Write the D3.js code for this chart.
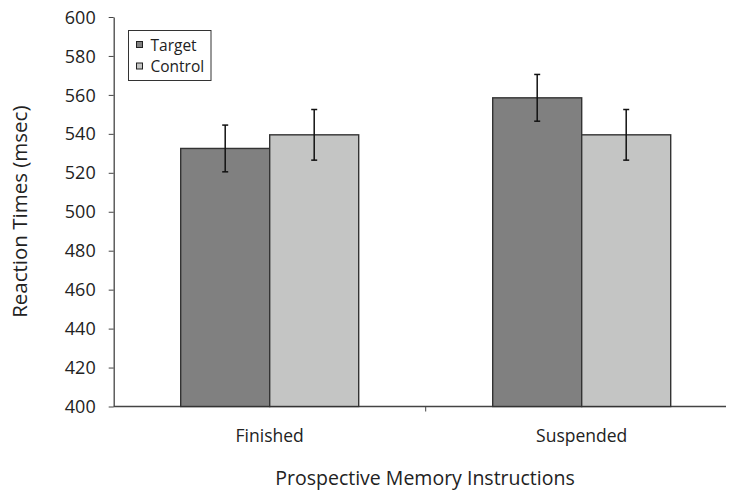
<!DOCTYPE html>
<html><head><meta charset="utf-8">
<script src="https://cdn.jsdelivr.net/npm/d3@7"></script>
<style>body{margin:0;background:#fff}svg{display:block}text{font-family:"Open Sans",sans-serif;fill:#222}</style>
</head><body><svg id="c" width="730" height="490"></svg>
<script>
const categories = ["Finished", "Suspended"];
const seriesNames = ["Target", "Control"];
const targetValues = [532.5, 558.5];
const controlValues = [539.5, 539.5];
const targetErrors = [12, 12];
const controlErrors = [13, 13];
const yTicks = [400, 420, 440, 460, 480, 500, 520, 540, 560, 580, 600];
const colors = {Target: "#808080", Control: "#c4c5c4"};

const svg = d3.select("#c");
const x0 = d3.scaleBand().domain(categories).range([113.7, 737.7]).paddingInner(0).paddingOuter(0);
const x1 = d3.scaleBand().domain(seriesNames).range([67, 245]).padding(0);
const y = d3.scaleLinear().domain([400, 600]).range([406.5, 17]);

// y axis
const ya = svg.append("g").attr("transform", "translate(113.7,0)")
  .call(d3.axisLeft(y).tickValues(yTicks).tickSize(5).tickPadding(13).tickSizeOuter(0));
ya.select(".domain").attr("stroke", "#444").attr("stroke-width", 1.3);
ya.selectAll(".tick line").attr("stroke", "#444");
ya.selectAll(".tick text").attr("font-size", 18).attr("fill", "#222").attr("font-family", "Open Sans")
  .attr("dy", "0.34em");

// x axis line
svg.append("line").attr("x1", 113.7).attr("x2", 726).attr("y1", y(400)).attr("y2", y(400))
  .attr("stroke", "#444").attr("stroke-width", 1.3);
categories.forEach((c, i) => {
  if (i > 0) svg.append("line").attr("x1", x0(c)).attr("x2", x0(c)).attr("y1", y(400)).attr("y2", y(400) + 5).attr("stroke", "#444");
});
svg.selectAll(".cat").data(categories).join("text")
  .attr("x", d => x0(d) + x0.bandwidth() / 2).attr("y", 441.5).attr("text-anchor", "middle")
  .attr("font-size", 17.5).text(d => d);

const data = [];
categories.forEach((c, i) => {
  data.push({c, s: "Target", v: targetValues[i], e: targetErrors[i]});
  data.push({c, s: "Control", v: controlValues[i], e: controlErrors[i]});
});
const g = svg.append("g");
g.selectAll("rect").data(data).join("rect")
  .attr("x", d => x0(d.c) + x1(d.s)).attr("width", x1.bandwidth())
  .attr("y", d => y(d.v)).attr("height", d => y(400) - y(d.v))
  .attr("fill", d => colors[d.s]).attr("stroke", "#333").attr("stroke-width", 1.4);

const cx = d => x0(d.c) + x1(d.s) + x1.bandwidth() / 2;
const eb = g.selectAll(".eb").data(data).join("g");
eb.append("line").attr("x1", cx).attr("x2", cx)
  .attr("y1", d => y(d.v + d.e)).attr("y2", d => y(d.v - d.e)).attr("stroke", "#111").attr("stroke-width", 1.5);
[1, -1].forEach(sg => {
  eb.append("line").attr("x1", d => cx(d) - 3).attr("x2", d => cx(d) + 3)
    .attr("y1", d => y(d.v + sg * d.e)).attr("y2", d => y(d.v + sg * d.e)).attr("stroke", "#111").attr("stroke-width", 1.5);
});

// axis titles
svg.append("text").attr("transform", "translate(27,211.7) rotate(-90)").attr("text-anchor", "middle")
  .attr("font-size", 20.5).text("Reaction Times (msec)");
svg.append("text").attr("x", 425).attr("y", 485).attr("text-anchor", "middle")
  .attr("font-size", 19.5).text("Prospective Memory Instructions");

// legend
const lg = svg.append("g");
lg.append("rect").attr("x", 128.5).attr("y", 30.5).attr("width", 82.5).attr("height", 50)
  .attr("fill", "#fff").attr("stroke", "#333").attr("stroke-width", 1);
seriesNames.forEach((s, i) => {
  lg.append("rect").attr("x", 136.5).attr("y", 41.5 + i * 21.5).attr("width", 6).attr("height", 6)
    .attr("fill", colors[s]).attr("stroke", "#222").attr("stroke-width", 1);
  lg.append("text").attr("x", 150.5).attr("y", 50.5 + i * 21.5).attr("font-size", 15.5).text(s);
});
</script></body></html>
